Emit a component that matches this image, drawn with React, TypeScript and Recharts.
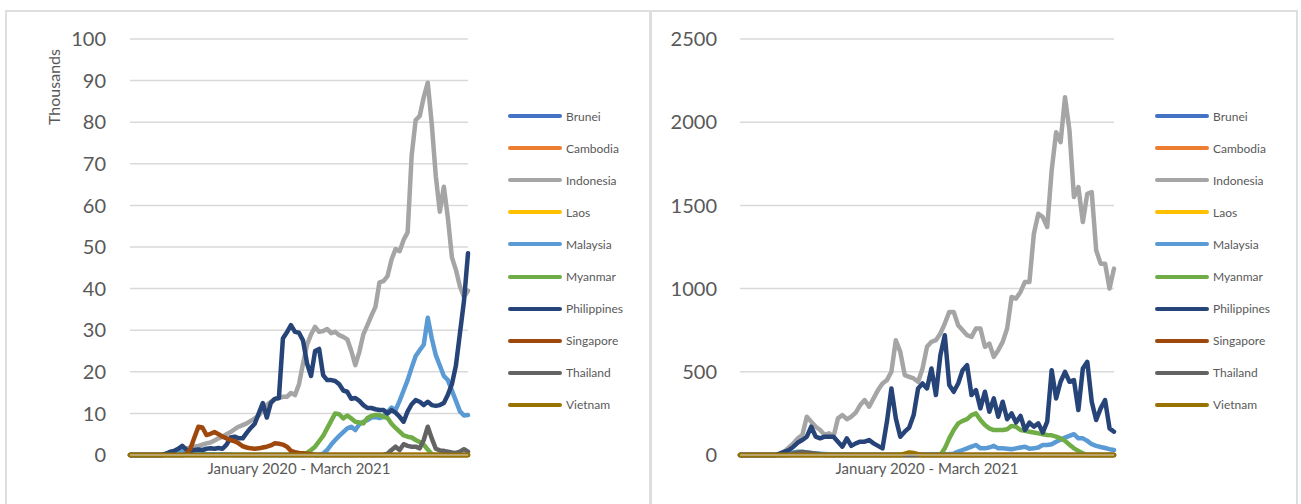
import React from 'react';
import { LineChart, Line, XAxis, YAxis, CartesianGrid } from 'recharts';

const FONT = 'Lato, "Open Sans", sans-serif';
const TEXT = '#595959';
const GRID = '#d9d9d9';

const countries = ['Brunei', 'Cambodia', 'Indonesia', 'Laos', 'Malaysia', 'Myanmar', 'Philippines', 'Singapore', 'Thailand', 'Vietnam'];
const colors = ['#4472C4', '#ED7D31', '#A5A5A5', '#FFC000', '#5B9BD5', '#70AD47', '#264478', '#9E480E', '#636363', '#997300'];

const casesTicks = [0, 10, 20, 30, 40, 50, 60, 70, 80, 90, 100];
const deathsTicks = [0, 500, 1000, 1500, 2000, 2500];
const periodLabel = 'January 2020 - March 2021';
const unitLabel = 'Thousands';

// series that stay on the zero line the whole period
const flatZero = [
  0, 0, 0, 0, 0, 0, 0, 0, 0,
  0, 0, 0, 0, 0, 0, 0, 0, 0, 0, 0, 0,
  0, 0, 0, 0, 0, 0, 0, 0, 0, 0, 0, 0,
  0, 0, 0, 0, 0, 0, 0, 0, 0, 0, 0, 0,
  0, 0, 0, 0, 0, 0, 0, 0, 0, 0, 0, 0,
  0, 0, 0, 0, 0, 0, 0, 0, 0, 0, 0, 0,
  0, 0, 0, 0, 0, 0, 0, 0, 0, 0, 0, 0,
  0, 0, 0, 0,
];

// left panel, thousands
const casesIndonesia = [
  0, 0, 0, 0, 0, 0, 0, 0, 0,
  0.2, 0.5, 0.8, 1, 1.3, 1.5, 1.8, 2, 2.2, 2.5, 2.8, 3,
  3.5, 4, 4.4, 5, 5.5, 6.2, 6.8, 7.2, 7.6, 8.2, 8.8, 9.5,
  10.8, 12, 12.8, 13.5, 13.7, 14, 14, 14.9, 14.4, 17, 22, 26.5,
  29, 30.8, 29.6, 29.8, 30.3, 29.3, 29.6, 28.8, 28.4, 27.8, 25, 21.6,
  24.8, 29, 31.2, 33.5, 35.6, 41.5, 41.8, 43, 47, 49.5, 49, 51.7,
  53.5, 72, 80.5, 81.5, 86, 89.5, 79.5, 67, 58.5, 64.5, 57, 47.5,
  44.5, 40.5, 38, 39.5,
];
const casesPhilippines = [
  0, 0, 0, 0, 0, 0, 0, 0, 0,
  0.3, 0.8, 1, 1.5, 2.2, 1.3, 1, 1.2, 1.3, 1.2, 1.5, 1.6,
  1.5, 1.7, 1.5, 2.5, 4.2, 4.4, 4, 4, 5.3, 6.5, 7.5, 10,
  12.5, 9, 12.5, 13.5, 13.7, 28, 29.5, 31.2, 29.6, 29.4, 27.5, 22,
  19, 25, 25.5, 19.2, 18, 18, 17.8, 17, 15.5, 15.2, 13.5, 13.7,
  13, 12, 11.3, 11.3, 11, 10.8, 10.8, 10, 10.8, 10.2, 9.2, 8,
  10.5, 12.2, 13.2, 12.8, 12, 12.8, 12, 11.8, 12, 12.5, 14.5, 17,
  21.5, 29.3, 37, 48.5,
];
const casesMalaysia = [
  0, 0, 0, 0, 0, 0, 0, 0, 0,
  0.3, 0.6, 0.8, 1, 0.8, 0.6, 0.5, 0.4, 0.3, 0.3, 0.2, 0.2,
  0.2, 0.2, 0.2, 0.1, 0.1, 0, 0, 0, 0, 0, 0, 0,
  0, 0, 0, 0, 0, 0, 0, 0, 0, 0, 0, 0,
  0, 0, 0, 0.3, 1.2, 2.5, 3.6, 4.6, 5.5, 6.4, 6.8, 6,
  7.4, 8, 8.4, 9, 9.1, 8.9, 9.2, 10.4, 11.4, 10.8, 13, 15.5,
  18, 21, 23.8, 25.2, 26.5, 33, 28, 24, 21.5, 19, 18, 15.5,
  13, 10.5, 9.5, 9.6,
];
const casesMyanmar = [
  0, 0, 0, 0, 0, 0, 0, 0, 0,
  0, 0, 0, 0, 0, 0, 0, 0, 0, 0, 0, 0,
  0, 0, 0, 0, 0, 0, 0, 0, 0, 0, 0, 0,
  0, 0, 0, 0, 0, 0, 0, 0, 0, 0, 0, 0.5,
  1.2, 2, 3.3, 4.6, 6.4, 8.2, 10, 9.8, 8.8, 9.5, 8.8, 8,
  7.8, 7.6, 8.9, 9.4, 9.6, 9.6, 9.2, 8.9, 7.5, 6.5, 5.6, 4.7,
  4.4, 4.2, 3.6, 3.1, 2.5, 1.3, 0.2, 0, 0, 0, 0, 0,
  0, 0, 0, 0,
];
const casesSingapore = [
  0, 0, 0, 0, 0, 0, 0, 0, 0,
  0, 0, 0, 0, 0, 0.2, 1.5, 4.2, 6.8, 6.6, 4.8, 5.1,
  5.5, 5, 4.4, 4, 3.6, 3.3, 2.8, 2.1, 1.8, 1.6, 1.5, 1.6,
  1.8, 2, 2.3, 2.8, 2.7, 2.5, 2, 1, 0.7, 0.5, 0.4, 0.3,
  0.2, 0, 0, 0, 0, 0, 0, 0, 0, 0, 0, 0,
  0, 0, 0, 0, 0, 0, 0, 0, 0, 0, 0, 0,
  0, 0, 0, 0, 0, 0, 0, 0, 0, 0, 0, 0,
  0, 0, 0, 0,
];
const casesThailand = [
  0, 0, 0, 0, 0, 0, 0, 0, 0,
  0, 0, 0, 0, 0, 0, 0, 0, 0, 0, 0, 0,
  0, 0, 0, 0, 0, 0, 0, 0, 0, 0, 0, 0,
  0, 0, 0, 0, 0, 0, 0, 0, 0, 0, 0, 0,
  0, 0, 0, 0, 0, 0, 0, 0, 0, 0, 0, 0,
  0, 0, 0, 0, 0, 0, 0, 0.3, 1.2, 2, 1.2, 2.6,
  2.2, 2, 2, 1.6, 3.6, 6.8, 4, 1.5, 1.1, 1, 0.8, 0.6,
  0.5, 0.8, 1.4, 0.8,
];

// right panel
const deathsIndonesia = [
  0, 0, 0, 0, 0, 0, 0, 0, 0,
  5, 20, 45, 70, 100, 120, 230, 200, 170, 150, 120, 130,
  110, 220, 240, 215, 230, 255, 300, 330, 290, 340, 390, 430,
  450, 500, 690, 620, 480, 470, 460, 440, 520, 650, 680, 690,
  730, 790, 860, 860, 780, 750, 720, 710, 760, 760, 650, 670,
  590, 630, 680, 760, 950, 940, 980, 1040, 1040, 1330, 1450, 1430,
  1370, 1710, 1940, 1880, 2150, 1950, 1550, 1610, 1400, 1570, 1580, 1230,
  1150, 1150, 1000, 1120,
];
const deathsPhilippines = [
  0, 0, 0, 0, 0, 0, 0, 0, 0,
  10, 20, 30, 50, 75, 90, 110, 170, 110, 100, 110, 110,
  110, 80, 50, 100, 55, 70, 80, 80, 90, 70, 55, 40,
  200, 400, 220, 110, 140, 165, 240, 400, 430, 400, 520, 360,
  600, 720, 420, 380, 430, 510, 540, 360, 390, 280, 380, 260,
  340, 230, 320, 215, 250, 195, 235, 150, 195, 170, 190, 135,
  200, 510, 340, 440, 500, 440, 450, 270, 520, 560, 320, 210,
  280, 330, 160, 140,
];
const deathsMyanmar = [
  0, 0, 0, 0, 0, 0, 0, 0, 0,
  0, 0, 0, 0, 0, 0, 0, 0, 0, 0, 0, 0,
  0, 0, 0, 0, 0, 0, 0, 0, 0, 0, 0, 0,
  0, 0, 0, 0, 0, 0, 0, 0, 0, 0, 0, 0,
  0, 40, 100, 150, 190, 205, 215, 240, 250, 210, 180, 160,
  150, 150, 150, 155, 175, 170, 150, 145, 140, 135, 130, 125,
  120, 118, 110, 100, 85, 62, 40, 25, 10, 0, 0, 0,
  0, 0, 0, 0,
];
const deathsMalaysia = [
  0, 0, 0, 0, 0, 0, 0, 0, 0,
  0, 0, 10, 15, 20, 20, 15, 12, 10, 8, 6, 4,
  3, 3, 3, 3, 3, 2, 2, 2, 2, 2, 2, 2,
  2, 2, 2, 2, 2, 2, 2, 2, 3, 3, 3, 3,
  4, 5, 6, 8, 20, 30, 40, 50, 60, 40, 40, 45,
  55, 40, 40, 38, 35, 40, 45, 50, 38, 40, 45, 60,
  60, 65, 80, 92, 105, 115, 125, 100, 100, 85, 65, 55,
  48, 42, 35, 30,
];
const deathsThailand = [
  0, 0, 0, 0, 0, 0, 0, 0, 0,
  0, 0, 0, 10, 15, 18, 15, 12, 8, 5, 0, 0,
  0, 0, 0, 0, 0, 0, 0, 0, 0, 0, 0, 0,
  0, 0, 0, 0, 0, 0, 0, 0, 0, 0, 0, 0,
  0, 0, 0, 0, 0, 0, 0, 0, 0, 0, 0, 0,
  0, 0, 0, 0, 0, 0, 0, 0, 0, 0, 0, 0,
  0, 0, 0, 0, 0, 0, 0, 0, 0, 0, 0, 0,
  0, 0, 0, 0,
];
const deathsVietnam = [
  0, 0, 0, 0, 0, 0, 0, 0, 0,
  0, 0, 0, 0, 0, 0, 0, 0, 0, 0, 0, 0,
  0, 0, 0, 0, 0, 0, 0, 0, 0, 0, 0, 0,
  0, 0, 0, 0, 8, 15, 12, 5, 0, 0, 0, 0,
  0, 0, 0, 0, 0, 0, 0, 0, 0, 0, 0, 0,
  0, 0, 0, 0, 0, 0, 0, 0, 0, 0, 0, 0,
  0, 0, 0, 0, 0, 0, 0, 0, 0, 0, 0, 0,
  0, 0, 0, 0,
];

const casesSeries = [flatZero, flatZero, casesIndonesia, flatZero, casesMalaysia, casesMyanmar, casesPhilippines, casesSingapore, casesThailand, flatZero];
const deathsSeries = [flatZero, flatZero, deathsIndonesia, flatZero, deathsMalaysia, deathsMyanmar, deathsPhilippines, flatZero, deathsThailand, deathsVietnam];

const buildRows = (series: number[][]) =>
  series[2].map((_, i) => {
    const row: any = { t: i };
    countries.forEach((c, k) => { row[c] = series[k][i]; });
    return row;
  });

const casesRows = buildRows(casesSeries);
const deathsRows = buildRows(deathsSeries);

const UnitLabel = (props: any) => {
  const { viewBox } = props;
  const x = viewBox.x - 17;
  const y = viewBox.y + 48;
  return (
    <text x={x} y={y} transform={`rotate(-90 ${x} ${y})`} textAnchor="middle" dominantBaseline="central"
      fontSize={16} fill={TEXT} fontFamily={FONT}>
      {unitLabel}
    </text>
  );
};

function LegendBlock({ left }: { left: number }) {
  return (
    <div style={{ position: 'absolute', left, top: 100, fontFamily: FONT }}>
      {countries.map((c, k) => (
        <div key={c} style={{ height: 32.1, display: 'flex', alignItems: 'center' }}>
          <span style={{ width: 54, height: 4, background: colors[k], borderRadius: 2, display: 'inline-block' }}></span>
          <span style={{ marginLeft: 4, fontSize: 12, color: TEXT }}>{c}</span>
        </div>
      ))}
    </div>
  );
}

function SeriesChart({ rows, ticks, width, margin, tickMargin, unit }: any) {
  return (
    <LineChart width={width} height={504} data={rows} margin={margin}>
      <CartesianGrid vertical={false} stroke={GRID} strokeWidth={1.5} />
      <XAxis
        dataKey="t"
        type="category"
        tick={false}
        tickLine={false}
        axisLine={{ stroke: GRID }}
        height={30}
        label={{ value: periodLabel, position: 'insideTop', offset: 8, fill: TEXT, fontSize: 15, fontFamily: FONT }}
      />
      <YAxis
        type="number"
        domain={[0, ticks[ticks.length - 1]]}
        ticks={ticks}
        interval={0}
        width={60}
        tickLine={false}
        axisLine={false}
        tickSize={0}
        tickMargin={tickMargin}
        tick={{ fontSize: 20, fill: TEXT, fontFamily: FONT }}
        label={unit ? { value: unitLabel, content: UnitLabel } : undefined}
      />
      {countries.map((c, k) => (
        <Line
          key={c}
          type="linear"
          dataKey={c}
          stroke={colors[k]}
          strokeWidth={4.5}
          strokeLinejoin="round"
          strokeLinecap="round"
          dot={false}
          activeDot={false}
          isAnimationActive={false}
        />
      ))}
    </LineChart>
  );
}

export default function App() {
  return (
    <div style={{ position: 'absolute', left: 0, top: 0, width: 1301, height: 504, background: '#fff', overflow: 'hidden' }}>
      <div style={{ position: 'absolute', left: 5, top: 10, width: 646, height: 520, border: '2px solid #dedede', boxSizing: 'border-box' }} />
      <div style={{ position: 'absolute', left: 650, top: 10, width: 648, height: 520, border: '2px solid #dedede', boxSizing: 'border-box' }} />
      <div style={{ position: 'absolute', left: 0, top: 0 }}>
        <SeriesChart rows={casesRows} ticks={casesTicks} width={651}
          margin={{ top: 39, right: 183, bottom: 19, left: 70 }} tickMargin={24} unit />
      </div>
      <div style={{ position: 'absolute', left: 651, top: 0 }}>
        <SeriesChart rows={deathsRows} ticks={deathsTicks} width={650}
          margin={{ top: 39, right: 187, bottom: 19, left: 29 }} tickMargin={23} unit={false} />
      </div>
      <LegendBlock left={508} />
      <LegendBlock left={1155} />
    </div>
  );
}
